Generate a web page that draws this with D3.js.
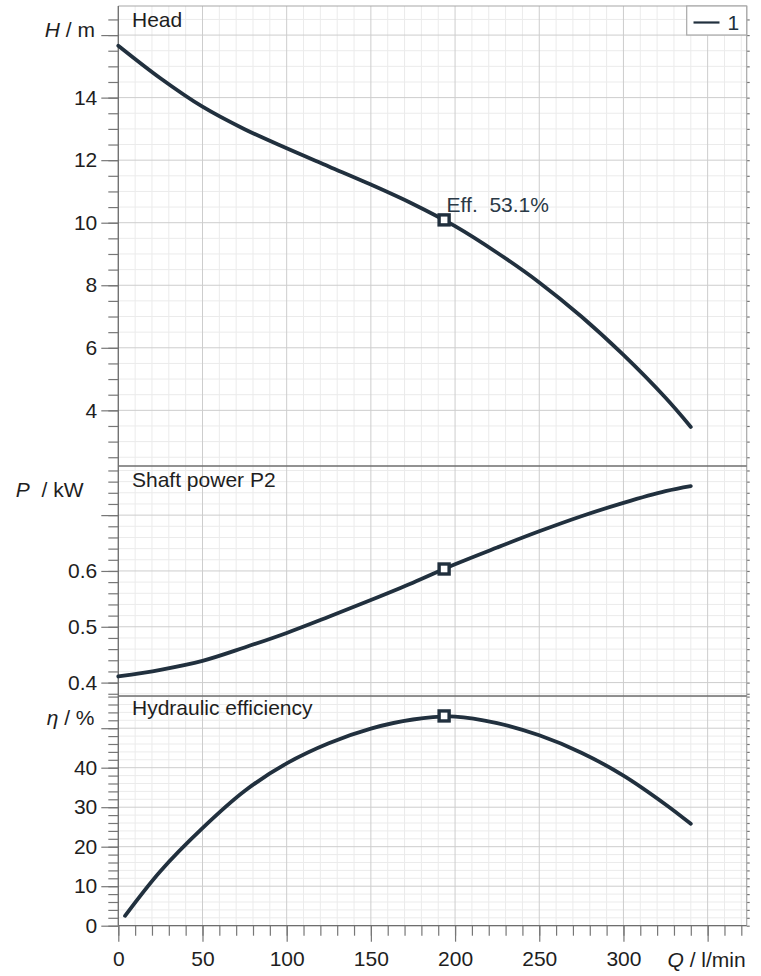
<!DOCTYPE html>
<html><head><meta charset="utf-8">
<script src="https://cdn.jsdelivr.net/npm/d3@7"></script>
<style>
body{margin:0;background:#fff}
svg{display:block}
text{font-family:"Liberation Sans",Arial,sans-serif;fill:#1e1e1e}
</style>
</head><body><svg id="c" width="761" height="976"></svg>
<script>
// ---------- data ----------
const flowQ   = [0, 25, 50, 75, 100, 125, 150, 175, 200, 225, 250, 275, 300, 325, 340];
const headH   = [15.66, 14.62, 13.71, 12.99, 12.38, 11.80, 11.22, 10.60, 9.89, 9.04, 8.09, 7.00, 5.77, 4.40, 3.47];
const powerP  = [0.411, 0.423, 0.439, 0.463, 0.489, 0.518, 0.548, 0.579, 0.612, 0.642, 0.671, 0.698, 0.722, 0.743, 0.752];
const effQ    = [4, 25, 50, 75, 100, 125, 150, 175, 200, 225, 250, 275, 300, 325, 340];
const effEta  = [2.5, 13.8, 24.7, 34.1, 41.1, 46.2, 49.9, 52.2, 52.95, 51.3, 48.2, 43.8, 38.0, 30.7, 25.8];
const bepQ = 193.5, bepH = 10.09, bepP = 0.6035, bepEta = 53.1;
const xTickLabels = [0, 50, 100, 150, 200, 250, 300];
const headTickLabels = [4, 6, 8, 10, 12, 14];
const powerTickLabels = [0.4, 0.5, 0.6];
const effTickLabels = [0, 10, 20, 30, 40];
const seriesName = "1";

// ---------- layout ----------
const svg = d3.select("#c");
const X0 = 118.3, X1 = 746.7;
const x = d3.scaleLinear().domain([0, 373.2]).range([X0, X1]);
const curveColor = "#21303e";

const panels = [
  {top: 6, bottom: 466, domain: [2.22, 16.93], minor: 0.5, major: 2, labels: headTickLabels,
   fmt: d3.format("d"), title: "Head", titleY: 27},
  {top: 466, bottom: 696, domain: [0.376, 0.788], minor: 0.02, major: 0.1, labels: powerTickLabels,
   fmt: d3.format(".1f"), title: "Shaft power P2", titleY: 487},
  {top: 696, bottom: 925.7, domain: [0, 58.15], minor: 2, major: 10, labels: effTickLabels,
   fmt: d3.format("d"), title: "Hydraulic efficiency", titleY: 715}
];
panels.forEach(p => {
  p.y = d3.scaleLinear().domain(p.domain).range([p.bottom, p.top]);
  const mins = [], majs = [];
  for (let i = Math.ceil(p.domain[0] / p.minor - 1e-9); i * p.minor <= p.domain[1] + 1e-9; i++) mins.push(+(i * p.minor).toFixed(4));
  for (let i = Math.ceil(p.domain[0] / p.major - 1e-9); i * p.major <= p.domain[1] + 1e-9; i++) majs.push(+(i * p.major).toFixed(4));
  p.mins = mins; p.majs = majs;
});

const xMinor = d3.range(0, 371, 10);
const xMajor = d3.range(0, 371, 50);

// ---------- grid ----------
const grid = svg.append("g");
panels.forEach(p => {
  grid.selectAll(null).data(xMinor.filter(v => v % 50 !== 0)).enter().append("line")
    .attr("x1", d => x(d)).attr("x2", d => x(d)).attr("y1", p.top).attr("y2", p.bottom)
    .attr("stroke", "#ebebeb").attr("stroke-width", 1);
  grid.selectAll(null).data(p.mins.filter(v => !p.majs.some(m => Math.abs(m - v) < 1e-6))).enter().append("line")
    .attr("x1", X0).attr("x2", X1).attr("y1", d => p.y(d)).attr("y2", d => p.y(d))
    .attr("stroke", "#ebebeb").attr("stroke-width", 1);
});
panels.forEach(p => {
  grid.selectAll(null).data(xMajor).enter().append("line")
    .attr("x1", d => x(d)).attr("x2", d => x(d)).attr("y1", p.top).attr("y2", p.bottom)
    .attr("stroke", "#cdcdcd").attr("stroke-width", 1);
  grid.selectAll(null).data(p.majs).enter().append("line")
    .attr("x1", X0).attr("x2", X1).attr("y1", d => p.y(d)).attr("y2", d => p.y(d))
    .attr("stroke", "#cdcdcd").attr("stroke-width", 1);
});

// ---------- axes ----------
function styleAxis(g) {
  g.select(".domain").remove();
  g.selectAll(".tick line").attr("stroke", "#777").attr("stroke-width", 1.2);
  g.selectAll(".tick text").attr("font-size", 21).attr("fill", "#1e1e1e")
    .style("font-family", '"Liberation Sans",Arial,sans-serif');
}
panels.forEach(p => {
  svg.append("g").attr("transform", `translate(${X0},0)`)
    .call(d3.axisLeft(p.y).tickValues(p.mins).tickSize(10).tickFormat(""))
    .call(styleAxis);
  svg.append("g").attr("transform", `translate(${X0},0)`)
    .call(d3.axisLeft(p.y).tickValues(p.majs).tickSize(17).tickPadding(4)
      .tickFormat(d => p.labels.some(l => Math.abs(l - d) < 1e-6) ? p.fmt(d) : ""))
    .call(styleAxis);
  svg.append("g").attr("transform", `translate(${X1},0)`)
    .call(d3.axisRight(p.y).tickValues(p.mins).tickSize(3).tickFormat(""))
    .call(styleAxis);
});
svg.append("g").attr("transform", `translate(0,925.7)`)
  .call(d3.axisBottom(x).tickValues(xMinor).tickSize(10).tickFormat(""))
  .call(styleAxis);
svg.append("g").attr("transform", `translate(0,925.7)`)
  .call(d3.axisBottom(x).tickValues(xMajor).tickSize(16).tickPadding(9)
    .tickFormat(d => xTickLabels.includes(d) ? d : ""))
  .call(styleAxis);

// ---------- frame ----------
svg.append("line").attr("x1", X0).attr("x2", X1).attr("y1", 6).attr("y2", 6).attr("stroke", "#a8a8a8").attr("stroke-width", 1.2);
svg.append("line").attr("x1", X1).attr("x2", X1).attr("y1", 6).attr("y2", 925.7).attr("stroke", "#a8a8a8").attr("stroke-width", 1.2);
[466, 696, 925.7].forEach(yy =>
  svg.append("line").attr("x1", X0).attr("x2", X1).attr("y1", yy).attr("y2", yy).attr("stroke", "#6e6e6e").attr("stroke-width", 1.3));
svg.append("line").attr("x1", X0).attr("x2", X0).attr("y1", 6).attr("y2", 925.7).attr("stroke", "#6e6e6e").attr("stroke-width", 1.3);

// ---------- titles ----------
panels.forEach(p => {
  svg.append("text").attr("x", 132).attr("y", p.titleY).attr("font-size", 21).text(p.title);
});

// axis unit labels
function unitLabel(xe, yb, sym, rest) {
  const t = svg.append("text").attr("x", xe).attr("y", yb).attr("text-anchor", "end")
    .attr("font-size", 21).style("white-space", "pre");
  t.append("tspan").attr("font-style", "italic").text(sym);
  t.append("tspan").text(rest);
}
unitLabel(95, 37.3, "H", " / m");
unitLabel(83.5, 496.7, "P", "\u00a0\u00a0/ kW");
unitLabel(94.5, 725, "\u03b7", " / %");
unitLabel(745.7, 967.3, "Q", " / l/min");

// ---------- curves ----------
function drawCurve(p, qs, vs) {
  const line = d3.line().x((d, i) => x(qs[i])).y(d => p.y(d)).curve(d3.curveCatmullRom.alpha(0.5));
  svg.append("path").datum(vs).attr("d", line).attr("fill", "none")
    .attr("stroke", curveColor).attr("stroke-width", 3.8).attr("stroke-linecap", "round");
}
drawCurve(panels[0], flowQ, headH);
drawCurve(panels[1], flowQ, powerP);
drawCurve(panels[2], effQ, effEta);

// BEP markers
[[panels[0], bepH], [panels[1], bepP], [panels[2], bepEta]].forEach(([p, v]) => {
  svg.append("rect").attr("x", x(bepQ) - 5).attr("y", p.y(v) - 5).attr("width", 10).attr("height", 10)
    .attr("fill", "#fff").attr("stroke", curveColor).attr("stroke-width", 3.4);
});
svg.append("text").attr("x", x(bepQ) + 2.5).attr("y", panels[0].y(bepH) - 8).attr("font-size", 21)
  .style("fill", "#2a3946").text("Eff.\u00a0\u00a053.1%");

// ---------- legend ----------
svg.append("rect").attr("x", 686.7).attr("y", 6).attr("width", X1 - 686.7).attr("height", 29)
  .attr("fill", "#fff").attr("stroke", "#a8a8a8").attr("stroke-width", 1.2);
svg.append("line").attr("x1", 693.5).attr("x2", 719.5).attr("y1", 22.5).attr("y2", 22.5)
  .attr("stroke", curveColor).attr("stroke-width", 2.2);
svg.append("text").attr("x", 727.5).attr("y", 29.5).attr("font-size", 21).style("fill", curveColor).text(seriesName);
</script>
</body></html>
